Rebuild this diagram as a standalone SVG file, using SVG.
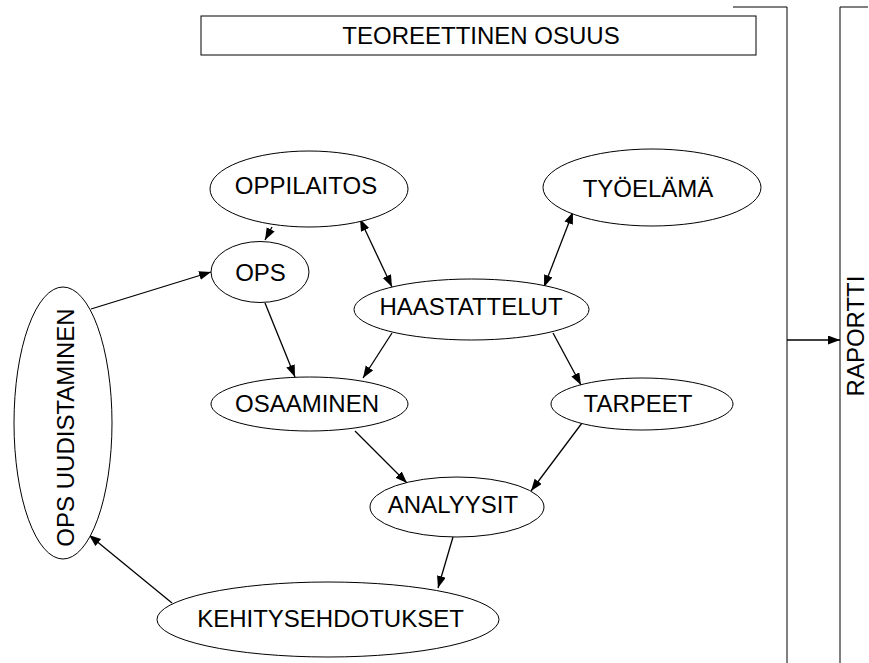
<svg xmlns="http://www.w3.org/2000/svg" width="869" height="663" viewBox="0 0 869 663">
  <style>
    .node ellipse, .node rect { fill: #fff; stroke: #000; stroke-width: 1; }
    .lbl { font-family: "Liberation Sans", Arial, sans-serif; font-size: 24px; fill: #000; text-anchor: middle; }
    .edge { fill: none; stroke: #000; stroke-width: 1.3; }
    .frame { fill: none; stroke: #000; stroke-width: 1; }
  </style>
  <defs>
    <marker id="head" markerUnits="userSpaceOnUse" markerWidth="13" markerHeight="10" refX="12" refY="4.5" orient="auto-start-reverse">
      <path d="M0,0 L12,4.5 L0,9 z" fill="#000"/>
    </marker>
  </defs>

  <!-- section frame lines -->
  <g id="frames">
    <polyline class="frame" points="733,7 787,7 787,663"/>
    <polyline class="frame" points="868,7 840,7 840,663"/>
  </g>

  <!-- connectors -->
  <g id="connectors">
    <line class="edge" x1="272" y1="227" x2="265" y2="240" marker-end="url(#head)"/>
    <line class="edge" x1="360" y1="219" x2="392" y2="287" marker-start="url(#head)" marker-end="url(#head)"/>
    <line class="edge" x1="573" y1="212" x2="544" y2="287" marker-start="url(#head)" marker-end="url(#head)"/>
    <line class="edge" x1="91" y1="309" x2="211" y2="272" marker-end="url(#head)"/>
    <line class="edge" x1="265" y1="303" x2="295" y2="377" marker-end="url(#head)"/>
    <line class="edge" x1="392" y1="333" x2="363" y2="378" marker-end="url(#head)"/>
    <line class="edge" x1="553" y1="333" x2="581" y2="385" marker-end="url(#head)"/>
    <line class="edge" x1="355" y1="431" x2="407" y2="483" marker-end="url(#head)"/>
    <line class="edge" x1="582" y1="423" x2="531" y2="491" marker-end="url(#head)"/>
    <line class="edge" x1="453" y1="537" x2="438" y2="588" marker-end="url(#head)"/>
    <line class="edge" x1="172" y1="603" x2="89" y2="535" marker-end="url(#head)"/>
    <line class="edge" x1="787" y1="340" x2="840" y2="340" marker-end="url(#head)"/>
  </g>

  <g id="teoreettinen" class="node">
    <rect x="201" y="16" width="555" height="39"/>
    <text class="lbl" x="481" y="44">TEOREETTINEN OSUUS</text>
  </g>

  <g id="oppilaitos" class="node">
    <ellipse cx="309" cy="189" rx="99" ry="38"/>
    <text class="lbl" x="306" y="193.5">OPPILAITOS</text>
  </g>

  <g id="tyoelama" class="node">
    <ellipse cx="652" cy="187.5" rx="109" ry="38.5"/>
    <text class="lbl" x="648" y="197">TYÖELÄMÄ</text>
  </g>

  <g id="ops" class="node">
    <ellipse cx="260" cy="272" rx="49" ry="30.5"/>
    <text class="lbl" x="260.5" y="281">OPS</text>
  </g>

  <g id="haastattelut" class="node">
    <ellipse cx="471.5" cy="309.5" rx="117.5" ry="30.5"/>
    <text class="lbl" x="471" y="315">HAASTATTELUT</text>
  </g>

  <g id="osaaminen" class="node">
    <ellipse cx="309.5" cy="404" rx="98.5" ry="27"/>
    <text class="lbl" x="307" y="412">OSAAMINEN</text>
  </g>

  <g id="tarpeet" class="node">
    <ellipse cx="642" cy="404" rx="91" ry="26"/>
    <text class="lbl" x="638" y="412">TARPEET</text>
  </g>

  <g id="analyysit" class="node">
    <ellipse cx="457" cy="507" rx="87" ry="30"/>
    <text class="lbl" x="453" y="513">ANALYYSIT</text>
  </g>

  <g id="kehitysehdotukset" class="node">
    <ellipse cx="328" cy="619.5" rx="171" ry="37.5"/>
    <text class="lbl" x="330.5" y="627">KEHITYSEHDOTUKSET</text>
  </g>

  <g id="ops-uudistaminen" class="node">
    <ellipse cx="63" cy="423" rx="49" ry="136"/>
    <text class="lbl" transform="translate(74,427.5) rotate(-90)">OPS UUDISTAMINEN</text>
  </g>

  <g id="raportti">
    <text class="lbl" transform="translate(864,336) rotate(-90)">RAPORTTI</text>
  </g>
</svg>
